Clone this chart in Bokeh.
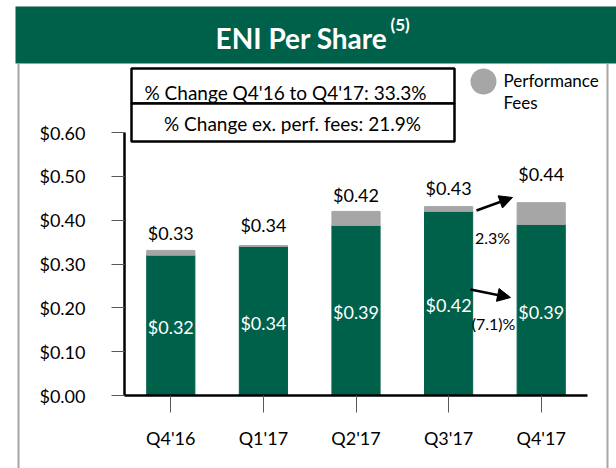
from bokeh.plotting import figure
from bokeh.models import (Range1d, ColumnDataSource, Label, BoxAnnotation,
                          Arrow, NormalHead, NumeralTickFormatter, FixedTicker)
from bokeh.core.properties import value
from bokeh.embed import file_html
from bokeh.resources import INLINE

# ---------------- data ----------------
quarters = ["Q4'16", "Q1'17", "Q2'17", "Q3'17", "Q4'17"]
eni_ex_fees = [0.32, 0.34, 0.388, 0.42, 0.39]
perf_fees = [0.011, 0.002, 0.032, 0.011, 0.05]
total_labels = ["$0.33", "$0.34", "$0.42", "$0.43", "$0.44"]
base_labels = ["$0.32", "$0.34", "$0.39", "$0.42", "$0.39"]
y_ticks = [0.0, 0.1, 0.2, 0.3, 0.4, 0.5, 0.6]
y_max = 0.6
title_text = "ENI Per Share"
title_note = "(5)"
change_total = "% Change Q4'16 to Q4'17: 33.3%"
change_ex = "% Change ex. perf. fees: 21.9%"
qoq_total = "2.3%"
qoq_ex = "(7.1)%"
legend_label = ["Performance", "Fees"]

# ---------------- styles / layout (pixels) ----------------
GREEN = "#00614B"
GREY = "#A6A6A6"
FONT = "Lato"
total_lift = [-17, -21, -16, -19, -29]

W, H = 616, 468
AX_L, AX_R, AX_T, AX_B = 124, 587, 132, 395   # plot-area edges on the canvas

n = len(quarters)
ppx = (AX_R - AX_L) / n
ppy = (AX_B - AX_T) / y_max
x_rng = Range1d(-0.5 - AX_L / ppx, n - 0.5 + (W - AX_R) / ppx)
y_rng = Range1d(-(H - AX_B) / ppy, y_max + AX_T / ppy)

idx = list(range(n))
src = ColumnDataSource(dict(
    x=idx,
    base=eni_ex_fees,
    fees=perf_fees,
    total=[a + b for a, b in zip(eni_ex_fees, perf_fees)],
    half=[a / 2 for a in eni_ex_fees],
    total_label=total_labels,
    base_label=base_labels,
    lift=total_lift,
))

p = figure(width=W, height=H, x_range=x_rng, y_range=y_rng,
           output_backend="svg", toolbar_location=None,
           min_border_left=0, min_border_right=0, min_border_top=0, min_border_bottom=0,
           outline_line_color=None, background_fill_color="white", border_fill_color="white")

# pixel ranges for decorations (canvas pixel = data value)
p.extra_x_ranges = {"px": Range1d(0, W)}
p.extra_y_ranges = {"py": Range1d(H, 0)}

p.xgrid.visible = False
p.ygrid.visible = False

p.vbar_stack(["base", "fees"], x="x", width=0.52, color=[GREEN, GREY], source=src)

p.text(x="x", y="total", text="total_label", y_offset="lift", source=src,
       text_align="center", text_baseline="middle", text_font=value(FONT),
       text_font_size="18px", text_color="black")
p.text(x="x", y="half", text="base_label", y_offset=2, source=src,
       text_align="center", text_baseline="middle", text_font=value(FONT),
       text_font_size="18px", text_color="white")

# axes
ya = p.yaxis[0]
ya.fixed_location = -0.5
ya.bounds = (0, y_max)
ya.ticker = FixedTicker(ticks=y_ticks)
ya.formatter = NumeralTickFormatter(format="$0.00")
ya.axis_line_width = 2.5
ya.axis_line_color = "black"
ya.major_tick_out = 13
ya.major_tick_in = 0
ya.major_tick_line_color = "#595959"
ya.minor_tick_out = 0
ya.minor_tick_in = 0
ya.major_label_standoff = 26
ya.major_label_text_font = FONT
ya.major_label_text_font_size = "18px"
ya.major_label_text_color = "black"

xa = p.xaxis[0]
xa.fixed_location = 0
xa.bounds = (-0.5, n - 0.5)
xa.ticker = FixedTicker(ticks=idx)
xa.major_label_overrides = {i: q for i, q in zip(idx, quarters)}
xa.axis_line_width = 2.5
xa.axis_line_color = "black"
xa.major_tick_out = 17
xa.major_tick_in = 0
xa.minor_tick_out = 0
xa.minor_tick_in = 0
xa.major_tick_line_color = "#595959"
xa.major_label_standoff = 14
xa.major_label_text_font = FONT
xa.major_label_text_font_size = "18px"
xa.major_label_text_color = "black"


def box(left, right, top, bottom, **kw):
    b = BoxAnnotation(left=left, right=right, top=top, bottom=bottom,
                      x_range_name="px", y_range_name="py", **kw)
    p.add_layout(b)
    return b


def label(x, y, text, size, align="center", color="black", style="normal"):
    lb = Label(x=x, y=y, text=text, x_range_name="px", y_range_name="py",
               text_align=align, text_baseline="middle", text_font=FONT,
               text_font_size=size, text_color=color, text_font_style=style)
    p.add_layout(lb)


# header
box(15, W, 6, 63, fill_color=GREEN, fill_alpha=1, line_color=None)
label(301, 37, title_text, "28px", color="white", style="bold")
label(390, 24, title_note, "17px", align="left", color="white", style="bold")

# frame lines
box(17, 19, 63, H, fill_color=GREY, fill_alpha=1, line_color=None)
box(606, 608, 63, H, fill_color=GREY, fill_alpha=1, line_color=None)

# change boxes
box(131, 454, 68, 103, fill_color="white", fill_alpha=1, line_color="black", line_width=2.5, line_alpha=1)
box(131, 454, 103, 141, fill_color="white", fill_alpha=1, line_color="black", line_width=2.5, line_alpha=1)
label(285, 92, change_total, "19px")
label(292, 123, change_ex, "19px")

# legend
box(470, 496, 68, 94, fill_color=GREY, fill_alpha=1, line_color=None, border_radius=13)
label(503, 80, legend_label[0], "17px", align="left")
label(503, 102, legend_label[1], "17px", align="left")

# arrows
for xs, ys, xe, ye in [(476, 210, 512, 197), (470, 289, 510, 297)]:
    p.add_layout(Arrow(x_start=xs, y_start=ys, x_end=xe, y_end=ye,
                       x_range_name="px", y_range_name="py", line_width=2.5,
                       line_color="black",
                       end=NormalHead(size=13, fill_color="black", line_color="black")))
label(492, 237, qoq_total, "16px")
label(493, 323, qoq_ex, "16px")

open("out.html", "w").write(file_html(p, INLINE))
